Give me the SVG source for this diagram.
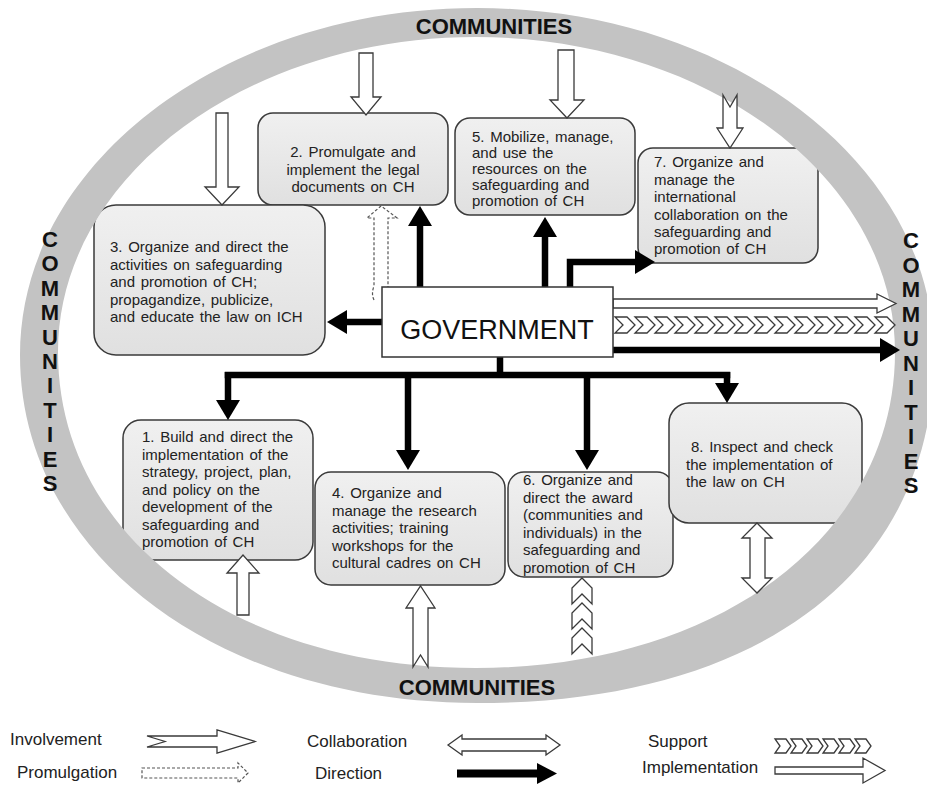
<svg xmlns="http://www.w3.org/2000/svg" xmlns:xlink="http://www.w3.org/1999/xlink" width="927" height="785" viewBox="0 0 927 785">
<style>
.box{fill:url(#bg);stroke:#3a3a3a;stroke-width:1.5}
.t{font-family:"Liberation Sans",Arial,sans-serif;font-size:15px;fill:#222;word-spacing:1.5px}
.lg{font-family:"Liberation Sans",Arial,sans-serif;font-size:17px;fill:#222}
.cm{font-family:"Liberation Sans",Arial,sans-serif;font-size:22px;font-weight:bold;fill:#111}
.ho{fill:#fff;stroke:#3a3a3a;stroke-width:1.3;stroke-linejoin:miter}
.dir{fill:none;stroke:#000;stroke-width:6.5;marker-end:url(#ah)}
.bus{fill:none;stroke:#000;stroke-width:6.5;stroke-linejoin:miter}
.dash{fill:#fff;stroke:#555;stroke-width:1.2;stroke-dasharray:3 2}
</style>
<defs>
<linearGradient id="bg" x1="0" y1="0" x2="0" y2="1">
<stop offset="0" stop-color="#f0f0f0"/><stop offset="1" stop-color="#e0e0e0"/>
</linearGradient>
<marker id="ah" markerUnits="userSpaceOnUse" markerWidth="20" markerHeight="24" viewBox="0 0 20 24" refX="0" refY="12" orient="auto">
<path d="M0,0 L20,12 L0,24 Z" fill="#000"/>
</marker>
<path id="chevR" d="M0,-8 L12,-8 L20,0 L12,8 L0,8 L8,0 Z"/>
<path id="chevU" d="M0,0 L10,10 L10,26 L0,16 L-10,26 L-10,10 Z"/>
<path id="chevS" d="M0,-7 L11,-7 L16,0 L11,7 L0,7 L5,0 Z"/>
</defs>
<rect width="927" height="785" fill="#fff"/>

<g id="box2"><rect class="box" x="258" y="113" width="190" height="92" rx="15"/>
<text class="t" text-anchor="middle"><tspan x="353" y="157">2. Promulgate and</tspan><tspan x="353" y="175">implement the legal</tspan><tspan x="353" y="192">documents on CH</tspan></text></g>

<g id="box3"><rect class="box" x="94" y="205" width="231" height="150" rx="22"/>
<text class="t"><tspan x="110" y="252">3. Organize and direct the</tspan><tspan x="110" y="269.5">activities on safeguarding</tspan><tspan x="110" y="287">and promotion of CH;</tspan><tspan x="110" y="304.5">propagandize, publicize,</tspan><tspan x="110" y="322">and educate the law on ICH</tspan></text></g>

<g id="box5"><rect class="box" x="455" y="118" width="180" height="97" rx="15"/>
<text class="t"><tspan x="472" y="142">5. Mobilize, manage,</tspan><tspan x="472" y="158">and use the</tspan><tspan x="472" y="174">resources on the</tspan><tspan x="472" y="190">safeguarding and</tspan><tspan x="472" y="206">promotion of CH</tspan></text></g>

<g id="box7"><rect class="box" x="638" y="148" width="180" height="115" rx="15"/>
<text class="t"><tspan x="654" y="167">7. Organize and</tspan><tspan x="654" y="184.5">manage the</tspan><tspan x="654" y="202">international</tspan><tspan x="654" y="219.5">collaboration on the</tspan><tspan x="654" y="237">safeguarding and</tspan><tspan x="654" y="254">promotion of CH</tspan></text></g>

<g id="box1"><rect class="box" x="123" y="420" width="190" height="140" rx="18"/>
<text class="t"><tspan x="142" y="442">1. Build and direct the</tspan><tspan x="142" y="459.5">implementation of the</tspan><tspan x="142" y="477">strategy, project, plan,</tspan><tspan x="142" y="494.5">and policy on the</tspan><tspan x="142" y="512">development of the</tspan><tspan x="142" y="529.5">safeguarding and</tspan><tspan x="142" y="547">promotion of CH</tspan></text></g>

<g id="box4"><rect class="box" x="315" y="472" width="190" height="113" rx="16"/>
<text class="t"><tspan x="332" y="498">4. Organize and</tspan><tspan x="332" y="515.5">manage the research</tspan><tspan x="332" y="533">activities; training</tspan><tspan x="332" y="550.5">workshops for the</tspan><tspan x="332" y="568">cultural cadres on CH</tspan></text></g>

<g id="box6"><rect class="box" x="508" y="472" width="165" height="105" rx="16"/>
<text class="t"><tspan x="523" y="485">6. Organize and</tspan><tspan x="523" y="502.5">direct the award</tspan><tspan x="523" y="520">(communities and</tspan><tspan x="523" y="537.5">individuals) in the</tspan><tspan x="523" y="555">safeguarding and</tspan><tspan x="523" y="572.5">promotion of CH</tspan></text></g>

<g id="box8"><rect class="box" x="669" y="403" width="193" height="120" rx="20"/>
<text class="t"><tspan x="691" y="452">8. Inspect and check</tspan><tspan x="686" y="470">the implementation of</tspan><tspan x="686" y="487">the law on CH</tspan></text></g>

<g id="communities">
<path fill="#c3c3c3" fill-rule="evenodd" d="M20,355 C20,163.4 224.6,8 477,8 C729.4,8 934,163.4 934,355 C934,570.8 760.3,703 477,703 C216.5,703 20,553.4 20,355 Z M58,352 C58,177.8 245.1,37 476,37 C706.9,37 895,177.8 895,352 C895,535.3 719,668 476,668 C233.6,668 58,535.3 58,352 Z"/>
<text class="cm" x="494" y="34" text-anchor="middle">COMMUNITIES</text>
<text class="cm" x="477" y="695" text-anchor="middle">COMMUNITIES</text>
<text class="cm" text-anchor="middle" font-size="21"><tspan x="50" y="247">C</tspan><tspan x="50" y="271.4">O</tspan><tspan x="50" y="295.8">M</tspan><tspan x="50" y="320.2">M</tspan><tspan x="50" y="344.6">U</tspan><tspan x="50" y="369">N</tspan><tspan x="50" y="393.4">I</tspan><tspan x="50" y="417.8">T</tspan><tspan x="50" y="442.2">I</tspan><tspan x="50" y="466.6">E</tspan><tspan x="50" y="491">S</tspan></text>
<text class="cm" text-anchor="middle" font-size="21"><tspan x="911" y="248">C</tspan><tspan x="911" y="272.5">O</tspan><tspan x="911" y="297">M</tspan><tspan x="911" y="321.5">M</tspan><tspan x="911" y="346">U</tspan><tspan x="911" y="370.5">N</tspan><tspan x="911" y="395">I</tspan><tspan x="911" y="419.5">T</tspan><tspan x="911" y="444">I</tspan><tspan x="911" y="468.5">E</tspan><tspan x="911" y="493">S</tspan></text>
</g>

<g id="connectors">
<polygon class="ho" points="359,53 373,53 373,97 381,97 366,115 351,97 359,97"/>
<polygon class="ho" points="216,113 228,113 228,187 239,187 222,205 205,187 216,187"/>
<polygon class="ho" points="558,50 574,50 574,100 584,100 567,118 550,100 558,100"/>
<polygon class="ho" points="723,95 730,107 737,95 737,128 743,128 730,148 717,128 723,128"/>
<polygon class="ho" points="237,615 249,615 249,573 259,573 243,555 227,573 237,573"/>
<polygon class="ho" points="413,667 420.5,655 428,667 428,608 435,608 420.5,586 406,608 413,608"/>
<g class="ho"><use xlink:href="#chevU" href="#chevU" x="582" y="578"/><use xlink:href="#chevU" href="#chevU" x="582" y="603"/><use xlink:href="#chevU" href="#chevU" x="582" y="628"/></g>
<polygon class="ho" points="757,523 772,538 765,538 765,578 772,578 757,593 742,578 750,578 750,538 742,538"/>
<path class="dash" d="M374,300 Q371,294 374,286 L374,218 L367,218 L381,206 L397,218 L388,218 L388,287"/>
<path class="dir" d="M420,287 L420,226"/>
<path class="dir" d="M545,287 L545,237"/>
<path class="dir" d="M570,287 L570,262 L635,262"/>
<path class="dir" d="M382,322 L347,322"/>
<path class="dir" d="M613,350 L880,350"/>
<path class="bus" d="M500,357 L500,375 M224.75,375 L730.25,375"/>
<path class="dir" d="M228,372 L228,400"/>
<path class="dir" d="M408,375 L408,450"/>
<path class="dir" d="M587,375 L587,450"/>
<path class="dir" d="M727,372 L727,383"/>
<polygon class="ho" points="613,299 877,299 877,294 896,303.5 877,313 877,308 613,308"/>
<g class="ho"><use href="#chevR" x="615" y="325"/><use href="#chevR" x="635" y="325"/><use href="#chevR" x="655" y="325"/><use href="#chevR" x="675" y="325"/><use href="#chevR" x="695" y="325"/><use href="#chevR" x="715" y="325"/><use href="#chevR" x="735" y="325"/><use href="#chevR" x="755" y="325"/><use href="#chevR" x="775" y="325"/><use href="#chevR" x="795" y="325"/><use href="#chevR" x="815" y="325"/><use href="#chevR" x="835" y="325"/><use href="#chevR" x="855" y="325"/><use href="#chevR" x="875" y="325"/></g>
</g>

<g id="government"><rect x="382" y="287" width="231" height="70" fill="#fff" stroke="#333" stroke-width="1.5"/>
<text x="497" y="339" text-anchor="middle" font-family="'Liberation Sans',Arial,sans-serif" font-size="27" fill="#111">GOVERNMENT</text></g>

<g id="legend">
<text class="lg" x="10" y="745">Involvement</text>
<polygon class="ho" points="147,736 217,736 217,730 255,741.5 217,753 217,747 147,747 165,741.5"/>
<text class="lg" x="17" y="778">Promulgation</text>
<path class="dash" d="M142,768 L238,768 L238,763 L248,773 L238,783 L238,778 L142,778 Z"/>
<text class="lg" x="307" y="747">Collaboration</text>
<polygon class="ho" points="448,745 462,735 462,739 546,739 546,735 560,745 546,755 546,751 462,751 462,755"/>
<text class="lg" x="315" y="779">Direction</text>
<path d="M457,773.5 L537,773.5" stroke="#000" stroke-width="8" fill="none"/>
<polygon points="537,763 557,773.5 537,784" fill="#000"/>
<text class="lg" x="648" y="747">Support</text>
<g class="ho"><use href="#chevS" x="775" y="746"/><use href="#chevS" x="791" y="746"/><use href="#chevS" x="807" y="746"/><use href="#chevS" x="823" y="746"/><use href="#chevS" x="839" y="746"/><use href="#chevS" x="855" y="746"/></g>
<text class="lg" x="642" y="773">Implementation</text>
<polygon class="ho" points="775,767 863,767 863,758 885,770.5 863,783 863,774 775,774"/>
</g>
</svg>
